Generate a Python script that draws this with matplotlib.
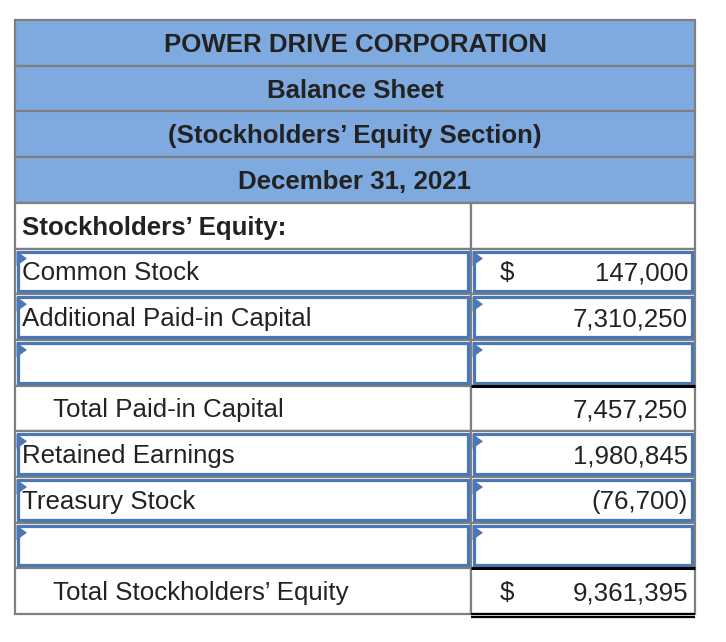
import matplotlib
matplotlib.use("Agg")
import matplotlib.pyplot as plt
from matplotlib.patches import Rectangle, Polygon
from matplotlib import font_manager

# ---------------- data ----------------
header_lines = ["POWER DRIVE CORPORATION", "Balance Sheet",
                "(Stockholders\u2019 Equity Section)", "December 31, 2021"]
row_labels = ["Stockholders\u2019 Equity:", "Common Stock", "Additional Paid-in Capital", "",
              "Total Paid-in Capital", "Retained Earnings", "Treasury Stock", "",
              "Total Stockholders\u2019 Equity"]
row_values = ["", "147,000", "7,310,250", "", "7,457,250", "1,980,845", "(76,700)", "", "9,361,395"]
row_dollar = ["", "$", "", "", "", "", "", "", "$"]
row_kind = ["bold", "input", "input", "input", "total", "input", "input", "input", "total"]

# ---------------- layout ----------------
W, H = 726, 642
fig = plt.figure(figsize=(W / 100, H / 100), dpi=100)
ax = fig.add_axes([0, 0, 1, 1])
ax.set_xlim(0, W)
ax.set_ylim(H, 0)
ax.axis("off")

names = {f.name for f in font_manager.fontManager.ttflist}
base = "Liberation Sans" if "Liberation Sans" in names else "DejaVu Sans"

left, right, split = 15, 695, 471
top = 20
rh = 45.7
grid = "#7f7f7f"
hdr_fill = "#7faadf"
inp = "#4a78b6"
fs = 18.6
tc = "#222222"
dy = 2

nh = len(header_lines)
for i, t in enumerate(header_lines):
    y0 = top + i * rh
    ax.add_patch(Rectangle((left, y0), right - left, rh, facecolor=hdr_fill,
                           edgecolor=grid, lw=1.6, zorder=1))
    ax.text((left + right) / 2, y0 + rh / 2 + dy, t, ha="center", va="center",
            fontsize=fs, fontweight="bold", family=base, color=tc, zorder=5)

for j, (lab, val, dol, kind) in enumerate(zip(row_labels, row_values, row_dollar, row_kind)):
    y0 = top + (nh + j) * rh
    for (x0, x1) in [(left, split), (split, right)]:
        ax.add_patch(Rectangle((x0, y0), x1 - x0, rh, facecolor="white",
                               edgecolor=grid, lw=1.6, zorder=1))
    if kind == "input":
        for (x0, x1) in [(left, split), (split, right)]:
            ax.add_patch(Rectangle((x0 + 3, y0 + 3), x1 - x0 - 6, rh - 6, facecolor="none",
                                   edgecolor=inp, lw=2.3, zorder=3))
            ax.add_patch(Polygon([(x0 + 1.5, y0 + 2.5), (x0 + 12, y0 + 10), (x0 + 1.5, y0 + 17.5)],
                                 closed=True, facecolor=inp, edgecolor="none", zorder=4))
    xl = 53 if kind == "total" else 22
    yc = y0 + rh / 2 + dy
    ax.text(xl, yc, lab, ha="left", va="center", fontsize=fs,
            fontweight="bold" if kind == "bold" else "normal",
            family=base, color=tc, zorder=5)
    if val:
        ax.text(688, yc, val, ha="right", va="center", fontsize=fs,
                family=base, color=tc, zorder=5)
    if dol:
        ax.text(507, yc, dol, ha="center", va="center", fontsize=fs,
                family=base, color=tc, zorder=5)
    if kind == "total":
        ax.plot([split, right], [y0, y0], color="black", lw=2.2, zorder=6,
                solid_capstyle="butt")
    if j == len(row_labels) - 1:
        yb = y0 + rh
        ax.plot([split, right], [yb - 0.5, yb - 0.5], color="black", lw=1.6, zorder=6,
                solid_capstyle="butt")
        ax.plot([split, right], [yb + 3, yb + 3], color="black", lw=1.6, zorder=6,
                solid_capstyle="butt")

fig.savefig("out.png", dpi=100, facecolor="white")
